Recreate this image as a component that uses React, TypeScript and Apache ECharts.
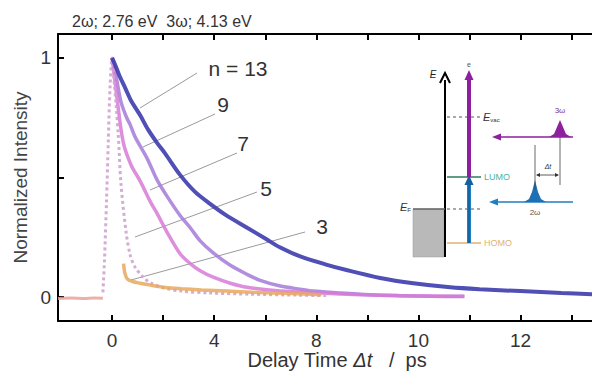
import React, { useEffect, useRef } from "react";
import * as echarts from "echarts";

// ---- axis ticks / labels ----
const xTickValues = [0, 2, 4, 6, 8, 10, 12, 14, 16, 18];
const xLabelValues = [0, 4, 8, 12, 16];
const xLabelTexts = ["0", "4", "8", "10", "12"];
const yTickValues = [0, 0.5, 1];
const yLabelValues = [0, 1];
const yLabelTexts = ["0", "1"];

// ---- data: [delay, normalized intensity] ----
const baseline = [[-2.12, -0.006], [-1.6, -0.004], [-1.1, -0.006], [-0.7, -0.004], [-0.36, -0.005]];

const n13 = [[0, 1.0], [0.16, 0.96], [0.31, 0.92], [0.51, 0.875], [0.75, 0.82], [1.1, 0.76], [1.41, 0.7], [1.76, 0.645], [2.08, 0.6], [2.67, 0.51], [3.25, 0.44], [3.84, 0.39], [4.43, 0.345], [5.29, 0.29], [6.0, 0.245], [6.59, 0.207], [7.37, 0.17], [8.35, 0.137], [9.22, 0.112], [10.5, 0.08], [11.8, 0.058], [13.25, 0.041], [14.4, 0.033], [16.0, 0.025], [17.6, 0.017], [18.8, 0.012]];

const n9 = [[0, 1.0], [0.16, 0.92], [0.35, 0.815], [0.55, 0.755], [0.71, 0.72], [0.9, 0.67], [1.37, 0.58], [1.76, 0.49], [2.16, 0.42], [2.67, 0.34], [3.06, 0.29], [3.45, 0.235], [3.96, 0.185], [4.63, 0.133], [5.29, 0.095], [5.8, 0.07], [6.59, 0.046], [7.37, 0.033], [7.88, 0.025], [8.94, 0.017], [10.1, 0.01], [11.3, 0.006], [12.5, 0.003], [13.8, 0.002]];

const n7 = [[0, 1.0], [0.16, 0.86], [0.43, 0.65], [0.75, 0.55], [1.1, 0.485], [1.49, 0.4], [1.76, 0.35], [2.16, 0.27], [2.67, 0.18], [3.06, 0.14], [3.45, 0.11], [3.96, 0.083], [4.63, 0.058], [5.29, 0.041], [6.59, 0.025], [8.16, 0.017], [9.73, 0.01], [11.3, 0.006], [13.8, 0.003]];

const n5 = [[-0.36, 0.02], [-0.3, 0.15], [-0.22, 0.4], [-0.15, 0.65], [-0.08, 0.88], [0, 1.0], [0.08, 0.9], [0.16, 0.8], [0.24, 0.68], [0.35, 0.47], [0.55, 0.27], [0.71, 0.175], [0.9, 0.125], [1.22, 0.083], [1.53, 0.058], [2.08, 0.037], [2.71, 0.025], [3.84, 0.017], [5.41, 0.012], [7.37, 0.008], [8.5, 0.006]];

const n3 = [[0.45, 0.14], [0.5, 0.1], [0.6, 0.075], [0.8, 0.065], [1.1, 0.058], [1.5, 0.05], [2.1, 0.04], [2.7, 0.035], [3.5, 0.03], [4.5, 0.025], [5.5, 0.02], [6.6, 0.016], [7.5, 0.013], [8.2, 0.01]];

const FONT = "'Liberation Sans', Arial, Helvetica, sans-serif";
const PURPLE = "#8e1f9e";
const BLUE = "#1f7fc4";

function arrowUp(x: number, yTop: number, color: string, w = 5, h = 10) {
  return { type: "polygon", shape: { points: [[x, yTop], [x - w, yTop + h], [x + w, yTop + h]] }, style: { fill: color } };
}
function arrowLeft(x: number, y: number, color: string) {
  return { type: "polygon", shape: { points: [[x, y], [x + 9, y - 3.5], [x + 9, y + 3.5]] }, style: { fill: color } };
}
function line(x1: number, y1: number, x2: number, y2: number, stroke: string, lineWidth = 1, dash?: number[]) {
  return { type: "line", shape: { x1, y1, x2, y2 }, style: { stroke, lineWidth, lineDash: dash } };
}
function pulse(cx: number, base: number, peak: number, color: string) {
  return {
    type: "polygon",
    shape: { points: [[cx - 11, base], [cx - 6, base - 3], [cx - 3, base - 10], [cx, peak], [cx + 3, base - 10], [cx + 6, base - 3], [cx + 11, base]] },
    style: { fill: color },
  };
}
function txt(x: number, y: number, text: string, fontSize: number, fill: string, extra: any = {}) {
  return { type: "text", x, y, style: { text, fontSize, fill, fontFamily: FONT, verticalAlign: "middle", align: "center", ...extra } };
}

export default function App() {
  const ref = useRef<HTMLDivElement>(null);
  useEffect(() => {
    if (!ref.current) return;
    const chart = echarts.init(ref.current, undefined, { renderer: "svg" });
    const labelMap: Record<string, string> = {};
    xLabelValues.forEach((v, i) => (labelMap[String(v)] = xLabelTexts[i]));
    const yLabelMap: Record<string, string> = {};
    yLabelValues.forEach((v, i) => (yLabelMap[String(v)] = yLabelTexts[i]));

    const mkSeries = (name: string, data: number[][], color: string, width: number, z: number, type: string = "solid", opacity = 0.85) => ({
      name,
      type: "line",
      data,
      smooth: 0.3,
      showSymbol: false,
      z,
      lineStyle: { color, width, type, opacity },
      itemStyle: { color },
    });

    const gray = "#9a9a9a";
    const leaderLabel = 21;
    chart.setOption({
      animation: false,
      backgroundColor: "#fff",
      textStyle: { fontFamily: FONT },
      grid: { left: 58, right: 0, top: 34, bottom: 51 },
      xAxis: [
        {
          type: "value",
          min: -2.12,
          max: 18.8,
          position: "bottom",
          axisLine: { show: true, onZero: false, lineStyle: { color: "#000", width: 2 } },
          axisTick: { show: true, inside: true, length: 6, lineStyle: { color: "#000", width: 2 }, customValues: xTickValues },
          axisLabel: {
            show: true,
            customValues: xLabelValues,
            formatter: (v: number) => labelMap[String(v)] ?? "",
            fontSize: 19,
            color: "#333",
            margin: 10,
            fontFamily: FONT,
          },
          splitLine: { show: false },
        },
        {
          type: "value",
          min: -2.12,
          max: 18.8,
          position: "top",
          axisLine: { show: true, onZero: false, lineStyle: { color: "#000", width: 2 } },
          axisTick: { show: true, inside: true, length: 6, lineStyle: { color: "#000", width: 2 }, customValues: xTickValues },
          axisLabel: { show: false },
          splitLine: { show: false },
        },
      ],
      yAxis: {
        type: "value",
        min: -0.1,
        max: 1.1,
        axisLine: { show: true, onZero: false, lineStyle: { color: "#000", width: 2 } },
        axisTick: { show: true, inside: true, length: 6, lineStyle: { color: "#000", width: 2 }, customValues: yTickValues },
        axisLabel: {
          show: true,
          customValues: yLabelValues,
          formatter: (v: number) => yLabelMap[String(v)] ?? "",
          fontSize: 19,
          color: "#333",
          margin: 7,
          fontFamily: FONT,
        },
        splitLine: { show: false },
        name: "Normalized Intensity",
        nameLocation: "middle",
        nameGap: 27,
        nameTextStyle: { fontSize: 19, color: "#444", fontFamily: FONT },
      },
      series: [
        mkSeries("baseline", baseline, "#e9a29a", 3, 2),
        mkSeries("n = 9", n9, "#a57ad8", 3.5, 3),
        mkSeries("n = 7", n7, "#d77ad6", 3.5, 4),
        mkSeries("n = 5", n5, "#d2a2d2", 3, 5, "dotted", 0.9),
        mkSeries("n = 3", n3, "#e8a85e", 3.5, 6),
        mkSeries("n = 13", n13, "#3c3cae", 4, 7, "solid", 0.9),
      ],
      graphic: [
        // top caption
        txt(72, 21, "2ω; 2.76 eV  3ω; 4.13 eV", 16, "#333", { align: "left" }),
        // x axis title
        {
          type: "text",
          x: 337,
          y: 360,
          style: {
            text: "{n|Delay Time }{i|Δt}{n|   /  ps}",
            align: "center",
            verticalAlign: "middle",
            fontFamily: FONT,
            rich: {
              n: { fontSize: 20, fill: "#333", fontFamily: FONT },
              i: { fontSize: 20, fill: "#333", fontStyle: "italic", fontFamily: FONT },
            },
          },
        },
        // leader lines + labels
        line(197, 73, 140, 108, gray),
        line(215, 114, 143, 147, gray),
        line(237, 153, 150, 190, gray),
        line(257, 192, 135, 237, gray),
        line(305, 232, 131, 280, gray),
        txt(238, 68, "n = 13", leaderLabel, "#333"),
        txt(223, 104, "9", leaderLabel, "#333"),
        txt(243, 143, "7", leaderLabel, "#333"),
        txt(266, 188, "5", leaderLabel, "#333"),
        txt(322, 226, "3", leaderLabel, "#333"),
        // ---- inset energy diagram ----
        { type: "rect", shape: { x: 413, y: 209, width: 31, height: 48 }, style: { fill: "#b9b9b9", stroke: "#999", lineWidth: 0.5 } },
        line(445, 257, 445, 80, "#000", 2),
        { type: "polyline", shape: { points: [[440, 83], [445, 73], [450, 83]] }, style: { stroke: "#000", lineWidth: 2, fill: "none" } },
        txt(433, 74, "E", 10, "#222", { fontStyle: "italic" }),
        // levels
        line(447, 117, 481, 117, "#555", 1, [3, 3]),
        line(447, 177, 481, 177, "#2e7d5e", 1.5),
        line(413, 209, 445, 209, "#666", 1.5),
        line(447, 209, 481, 209, "#555", 1, [3, 3]),
        line(447, 243, 481, 243, "#e0b070", 1.5),
        {
          type: "text",
          x: 483,
          y: 117,
          style: { text: "{e|E}{s|vac}", verticalAlign: "middle", fontFamily: FONT, rich: { e: { fontSize: 11, fontStyle: "italic", fill: "#333" }, s: { fontSize: 6, fill: "#333", padding: [6, 0, 0, 0] } } },
        },
        {
          type: "text",
          x: 411,
          y: 207,
          style: { text: "{e|E}{s|F}", align: "right", verticalAlign: "middle", fontFamily: FONT, rich: { e: { fontSize: 11, fontStyle: "italic", fill: "#333" }, s: { fontSize: 6, fill: "#333", padding: [6, 0, 0, 0] } } },
        },
        txt(484, 177, "LUMO", 9, "#4bb3a0", { align: "left" }),
        txt(484, 243, "HOMO", 9, "#e2b172", { align: "left" }),
        // transitions
        line(469, 243, 469, 184, BLUE, 4),
        line(469, 243, 469, 184, "#0e4f8a", 1),
        arrowUp(469, 175, "#155f9e", 4.5, 10),
        line(469, 177, 469, 79, PURPLE, 4),
        arrowUp(469, 70, PURPLE, 4.5, 10),
        txt(469, 64, "e", 7, "#555"),
        // 3ω pulse
        line(573, 137, 498, 137, PURPLE, 1.5),
        arrowLeft(492, 137, PURPLE),
        pulse(560, 137, 120, PURPLE),
        txt(560, 110, "3ω", 8, PURPLE),
        // 2ω pulse
        line(573, 202, 496, 202, BLUE, 1.5),
        arrowLeft(489, 202, BLUE),
        pulse(535, 202, 180, "#1f6fb4"),
        txt(535, 212, "2ω", 8, "#555"),
        // delay marker
        line(535, 145, 535, 190, "#444", 0.8),
        line(560, 137, 560, 185, "#444", 0.8),
        line(537, 175, 558, 175, "#333", 0.8),
        { type: "polygon", shape: { points: [[536, 175], [540, 173], [540, 177]] }, style: { fill: "#333" } },
        { type: "polygon", shape: { points: [[559, 175], [555, 173], [555, 177]] }, style: { fill: "#333" } },
        txt(548, 166, "Δt", 7, "#333", { fontStyle: "italic" }),
      ],
    });
    return () => chart.dispose();
  }, []);
  return <div ref={ref} style={{ position: "fixed", left: 0, top: 0, width: 592, height: 372, background: "#fff" }} />;
}
